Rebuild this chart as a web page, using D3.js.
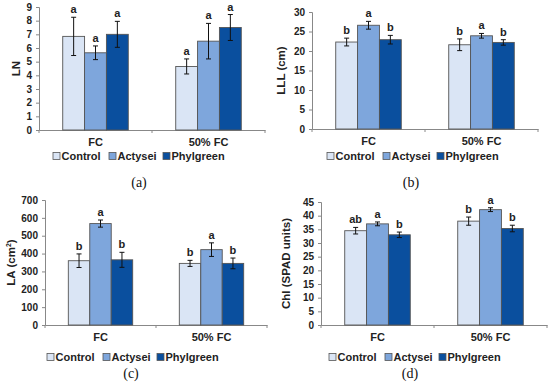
<!DOCTYPE html>
<html><head><meta charset="utf-8">
<script src="https://cdn.jsdelivr.net/npm/d3@7"></script>
<style>
body{margin:0;background:#fff;}
</style></head><body>
<svg id="c" width="550" height="391"></svg>
<script>
const categories = ["FC", "50% FC"];
const series = ["Control", "Actysei", "Phylgreen"];
const colors = ["#dae5f5", "#7ea6dc", "#0a4f9e"];

// Panel (a) LN
const lnValues = [[6.85, 4.65], [5.65, 6.5], [7.0, 7.5]];
const lnErrors = [[1.4, 0.55], [0.5, 1.3], [0.95, 0.95]];
const lnLetters = [["a", "a"], ["a", "a"], ["a", "a"]];
const lnTicks = [0,1,2,3,4,5,6,7,8,9];

// Panel (b) LLL
const lllValues = [[22.3, 21.6], [26.6, 23.9], [22.9, 22.2]];
const lllErrors = [[1.0, 1.5], [1.0, 0.6], [1.1, 0.7]];
const lllLetters = [["b", "b"], ["a", "a"], ["b", "b"]];
const lllTicks = [0,5,10,15,20,25,30];

// Panel (c) LA
const laValues = [[360, 345], [568, 422], [365, 345]];
const laErrors = [[38, 17], [20, 38], [42, 30]];
const laLetters = [["b", "b"], ["a", "a"], ["b", "b"]];
const laTicks = [0,100,200,300,400,500,600,700];

// Panel (d) Chl
const chlValues = [[34.5, 38.0], [37.0, 42.2], [33.0, 35.3]];
const chlErrors = [[1.2, 1.5], [0.7, 0.7], [1.0, 1.2]];
const chlLetters = [["ab", "b"], ["a", "a"], ["b", "b"]];
const chlTicks = [0,5,10,15,20,25,30,35,40,45];

const svg = d3.select("#c");
const SANS = "Arial, 'Liberation Sans', sans-serif";

function panel(o) {
  const g = svg.append("g").attr("font-family", SANS);
  const y = d3.scaleLinear().domain([0, o.ticks[o.ticks.length-1]]).range([o.bottom, o.top]);
  const x0 = d3.scaleBand().domain(categories).range([o.left, o.right]);
  const bw = x0.bandwidth();
  const x1 = d3.scaleBand().domain(series).range([bw*0.21, bw*0.79]);

  // y axis
  const ya = g.append("g").attr("transform", `translate(${o.left},0)`)
    .call(d3.axisLeft(y).tickValues(o.ticks).tickSize(3).tickPadding(4));
  ya.attr("font-family", SANS);
  ya.select(".domain").attr("stroke", "#888");
  ya.selectAll(".tick line").attr("stroke", "#888");
  ya.selectAll(".tick text").attr("font-size", 10).attr("font-weight", "bold").attr("fill", "#222");

  // x axis
  const xa = g.append("g").attr("transform", `translate(0,${o.bottom})`)
    .call(d3.axisBottom(x0).tickSize(0).tickPadding(8));
  xa.attr("font-family", SANS);
  xa.select(".domain").attr("stroke", "#888");
  xa.selectAll(".tick text").attr("font-size", 11).attr("font-weight", "bold").attr("fill", "#222");
  const edges = [o.left, x0("50% FC"), o.right];
  g.selectAll(".xt").data(edges).join("line")
    .attr("x1", d => d).attr("x2", d => d)
    .attr("y1", o.bottom).attr("y2", o.bottom + 3).attr("stroke", "#888");

  // bars
  series.forEach((s, si) => {
    categories.forEach((c, ci) => {
      const v = o.values[si][ci], e = o.errors[si][ci];
      const bx = x0(c) + x1(s);
      g.append("rect").attr("x", bx).attr("y", y(v))
        .attr("width", x1.bandwidth()).attr("height", y(0) - y(v))
        .attr("fill", colors[si]).attr("stroke", "#555").attr("stroke-width", 0.9);
      const cx = bx + x1.bandwidth()/2;
      g.append("line").attr("x1", cx).attr("x2", cx).attr("y1", y(v+e)).attr("y2", y(v-e))
        .attr("stroke", "#111").attr("stroke-width", 1);
      [v+e, v-e].forEach(t => g.append("line").attr("x1", cx-2.5).attr("x2", cx+2.5)
        .attr("y1", y(t)).attr("y2", y(t)).attr("stroke", "#111").attr("stroke-width", 1));
      g.append("text").attr("x", cx).attr("y", y(v+e) - 4).attr("text-anchor", "middle")
        .attr("font-size", 11).attr("font-weight", "bold").attr("fill", "#222")
        .text(o.letters[si][ci]);
    });
  });

  // y title
  const yt = g.append("text").attr("transform", `translate(${o.titleX},${(o.top+o.bottom)/2}) rotate(-90)`)
    .attr("text-anchor", "middle").attr("font-size", 11.5).attr("font-weight", "bold").attr("fill", "#222");
  if (o.sup) {
    yt.append("tspan").text(o.title);
    yt.append("tspan").attr("font-size", 7).attr("dy", -4).text(o.sup);
    yt.append("tspan").attr("dy", 4).text(")");
  } else yt.text(o.title);

  // legend
  const lg = g.append("g").attr("transform", `translate(${o.legX},${o.legY})`);
  const offs = [0, 56, 110];
  series.forEach((s, si) => {
    lg.append("rect").attr("x", offs[si]).attr("y", -7.5).attr("width", 7).attr("height", 7)
      .attr("fill", colors[si]).attr("stroke", "#555").attr("stroke-width", 0.8);
    lg.append("text").attr("x", offs[si] + 8.5).attr("y", 0).attr("font-size", 11)
      .attr("font-weight", "bold").attr("fill", "#222").text(s);
  });

  // panel label
  g.append("text").attr("x", o.labX).attr("y", o.labY).attr("text-anchor", "middle")
    .attr("font-family", "'Liberation Serif','Times New Roman',serif").attr("font-size", 14)
    .attr("fill", "#111").text(o.label);
}

panel({left: 39, right: 265, top: 7, bottom: 130, ticks: lnTicks, values: lnValues, errors: lnErrors,
  letters: lnLetters, title: "LN", titleX: 20, legX: 53, legY: 160, labX: 139, labY: 187, label: "(a)"});
panel({left: 312, right: 538, top: 12, bottom: 129, ticks: lllTicks, values: lllValues, errors: lllErrors,
  letters: lllLetters, title: "LLL (cm)", titleX: 285, legX: 327, legY: 160, labX: 411, labY: 187, label: "(b)"});
panel({left: 45, right: 267, top: 200, bottom: 325, ticks: laTicks, values: laValues, errors: laErrors,
  letters: laLetters, title: "LA (cm", sup: "2", titleX: 15, legX: 47, legY: 361, labX: 131, labY: 378, label: "(c)"});
panel({left: 321, right: 547, top: 202, bottom: 325, ticks: chlTicks, values: chlValues, errors: chlErrors,
  letters: chlLetters, title: "Chl (SPAD units)", titleX: 290, legX: 329, legY: 361, labX: 410, labY: 378, label: "(d)"});
</script>
</body></html>
